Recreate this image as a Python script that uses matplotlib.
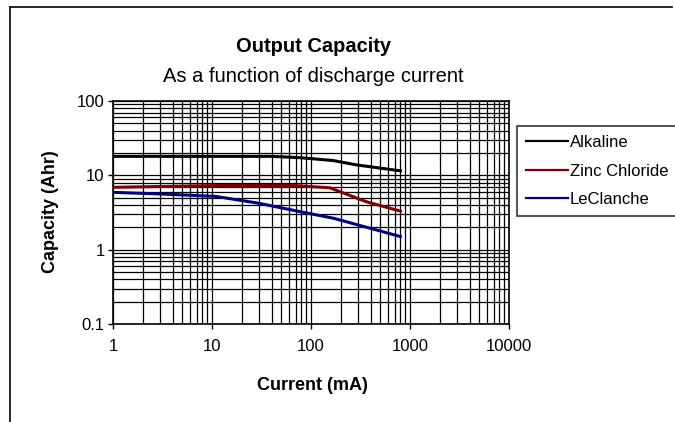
import matplotlib
matplotlib.use("Agg")
import matplotlib.pyplot as plt
from matplotlib.lines import Line2D
from matplotlib.ticker import LogLocator, NullFormatter, FixedFormatter

plt.rcParams['font.family'] = ['Liberation Sans', 'DejaVu Sans']

# values
alk_current = [1, 40, 77, 168, 290, 800]
alk_cap = [18.0, 18.0, 17.3, 15.8, 13.8, 11.5]

zinc_current = [1, 12, 66, 155, 365, 800]
zinc_cap = [6.9, 7.3, 7.3, 6.8, 4.4, 3.3]

lecl_current = [1, 3.2, 11, 30, 77, 168, 365, 800]
lecl_cap = [5.9, 5.6, 5.2, 4.2, 3.25, 2.65, 2.0, 1.5]

x_ticks = [1, 10, 100, 1000, 10000]
x_labels = ["1", "10", "100", "1000", "10000"]
y_ticks = [0.1, 1, 10, 100]
y_labels = ["0.1", "1", "10", "100"]

W, H = 675, 422
fig = plt.figure(figsize=(6.75, 4.22), dpi=100)
ax = fig.add_axes([113 / W, 1 - 324 / H, 396 / W, 223 / H])

ax.plot(alk_current, alk_cap, color="black", lw=2.2, label="Alkaline")
ax.plot(zinc_current, zinc_cap, color="#800000", lw=2.2, label="Zinc Chloride")
ax.plot(lecl_current, lecl_cap, color="#000080", lw=2.2, label="LeClanche")

ax.set_xscale("log")
ax.set_yscale("log")
ax.set_xlim(1, 10000)
ax.set_ylim(0.1, 100)

ax.set_xticks(x_ticks)
ax.xaxis.set_major_formatter(FixedFormatter(x_labels))
ax.set_yticks(y_ticks)
ax.yaxis.set_major_formatter(FixedFormatter(y_labels))
ax.xaxis.set_minor_locator(LogLocator(base=10, subs=range(2, 10)))
ax.yaxis.set_minor_locator(LogLocator(base=10, subs=range(2, 10)))
ax.xaxis.set_minor_formatter(NullFormatter())
ax.yaxis.set_minor_formatter(NullFormatter())

ax.tick_params(which="major", direction="out", length=3.6, width=1, labelsize=12)
ax.tick_params(axis="x", which="major", pad=7)
ax.tick_params(axis="y", which="major", pad=2.5)
ax.tick_params(which="minor", length=0)

ax.grid(True, which="both", color="black", lw=0.9)
ax.set_axisbelow(True)
for s in ax.spines.values():
    s.set_linewidth(1.2)

ax.set_xlabel("Current (mA)", fontsize=13, fontweight="bold")
ax.set_ylabel("Capacity (Ahr)", fontsize=13, fontweight="bold")
ax.xaxis.set_label_coords((312 - 113) / 396, (324 - 385) / 223)
ax.yaxis.set_label_coords((51 - 113) / 396, (324 - 212) / 223)
ax.xaxis.label.set_va("center")
ax.yaxis.label.set_va("center")

fig.text(314 / W, 1 - 46 / H, "Output Capacity", fontsize=14.5,
         fontweight="bold", ha="center", va="center")
fig.text(313 / W, 1 - 76 / H, "As a function of discharge current",
         fontsize=14.5, ha="center", va="center")

leg = fig.legend(loc="upper left", bbox_to_anchor=(517 / W, 1 - 126 / H),
                 frameon=True, fancybox=False, edgecolor="black",
                 fontsize=12, handlelength=2.5, handletextpad=0.1,
                 labelspacing=0.8, borderpad=0.55, borderaxespad=0)
leg.get_frame().set_linewidth(1.2)
for ln in leg.get_lines():
    ln.set_linewidth(1.6)

# chart area border
fig.add_artist(Line2D([10 / W, 672 / W], [1 - 7 / H, 1 - 7 / H],
                      color="black", lw=1.2))
fig.add_artist(Line2D([10 / W, 10 / W], [1 - 7 / H, 0],
                      color="black", lw=1.2))

fig.savefig("out.png", dpi=100)
